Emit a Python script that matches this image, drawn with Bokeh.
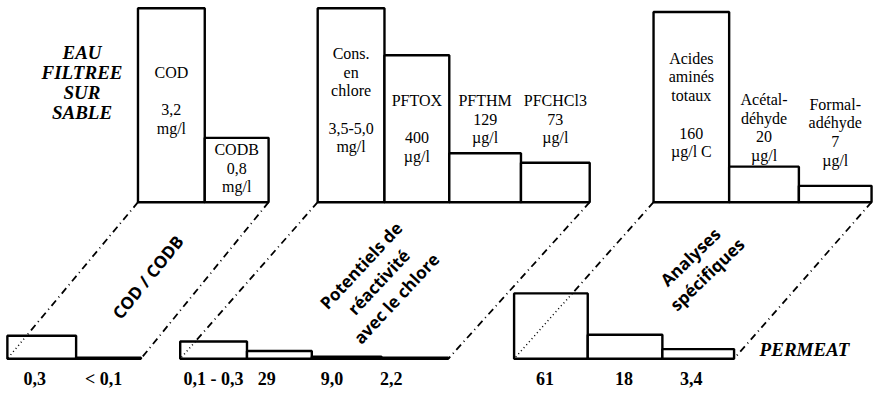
import math
from bokeh.plotting import figure
from bokeh.models import Range1d
from bokeh.core.properties import value
from bokeh.embed import file_html
from bokeh.resources import INLINE

# ---------------- data (schematic bar heights) ----------------
left_title = ["EAU", "FILTREE", "SUR", "SABLE"]
right_title = "PERMEAT"

group_titles = ["COD / CODB", "Potentiels de\nréactivité\navec le chlore", "Analyses\nspécifiques"]

cod_top_labels = [["COD", "", "3,2", "mg/l"], ["CODB", "0,8", "mg/l"]]
cod_top_heights = [202, 67]
cod_bottom_heights = [24, 1]
cod_bottom_labels = ["0,3", "< 0,1"]

chl_top_labels = [["Cons.", "en", "chlore", "", "3,5-5,0", "mg/l"],
                  ["PFTOX", "", "400", "µg/l"],
                  ["PFTHM", "129", "µg/l"],
                  ["PFCHCl3", "73", "µg/l"]]
chl_top_heights = [202, 153, 51, 41]
chl_bottom_heights = [18, 8, 2, 1]
chl_bottom_labels = ["0,1 - 0,3", "29", "9,0", "2,2"]

spe_top_labels = [["Acides", "aminés", "totaux", "", "160", "µg/l C"],
                  ["Acétal-", "déhyde", "20", "µg/l"],
                  ["Formal-", "adéhyde", "7", "µg/l"]]
spe_top_heights = [198, 37, 17]
spe_bottom_heights = [68, 25, 10]
spe_bottom_labels = ["61", "18", "3,4"]

top_labels = [cod_top_labels, chl_top_labels, spe_top_labels]
top_heights = [cod_top_heights, chl_top_heights, spe_top_heights]
bottom_heights = [cod_bottom_heights, chl_bottom_heights, spe_bottom_heights]
bottom_labels = [cod_bottom_labels, chl_bottom_labels, spe_bottom_labels]

# ---------------- layout (positions / sizes / styles) ----------------
TOP_BASE = 210
BOT_BASE = 373
top_x0 = [140, 323, 665]
bot_x0 = [7, 183, 523]
top_w = [[68, 65], [68, 66, 73, 70], [77, 71, 74]]
bot_w = [[70, 66], [68, 66, 71, 68], [75, 76, 73]]
top_text_y = [[75, 155], [55, 104, 104, 104], [60, 103, 108]]
bot_label_dx = [[-7, -5], [0, -13, -15, -24], [-6, -1, -7]]
BOT_LABEL_Y = 394
LINE_STEP = 19.5
title_pos = [(150, 288), (385, 293), (711, 276)]
title_angle = [51, 47, 44]

SERIF = value("Liberation Serif")
SANS = value("Open Sans")

p = figure(width=874, height=388, output_backend="svg", toolbar_location=None,
           x_range=Range1d(0, 890), y_range=Range1d(404, 0), min_border=0)
p.axis.visible = False
p.grid.visible = False
p.outline_line_color = None
p.background_fill_color = "white"
p.border_fill_color = "white"

DASHDOT = "7 4 1 4"

for g in range(3):
    tl, tr = [], []
    x = top_x0[g]
    for w in top_w[g]:
        tl.append(x); tr.append(x + w); x += w
    bl, br = [], []
    x = bot_x0[g]
    for w in bot_w[g]:
        bl.append(x); br.append(x + w); x += w

    # connecting dash-dot lines
    for (xt, xb) in [(tl[0], bl[0]), (tr[-1], br[-1])]:
        p.line([xt, xb], [TOP_BASE, BOT_BASE], line_color="black", line_width=1.8,
               line_dash=DASHDOT)

    # top bars
    p.quad(left=tl, right=tr, bottom=[TOP_BASE] * len(tl),
           top=[TOP_BASE - h for h in top_heights[g]],
           fill_color="white", line_color="black", line_width=2.4)
    # bottom bars
    p.quad(left=bl, right=br, bottom=[BOT_BASE] * len(bl),
           top=[BOT_BASE - h for h in bottom_heights[g]],
           fill_color="white", line_color="black", line_width=2.4)

    # dotted continuation inside first bottom bar
    yt = BOT_BASE - bottom_heights[g][0]
    t = (yt - TOP_BASE) / (BOT_BASE - TOP_BASE)
    xi = tl[0] + t * (bl[0] - tl[0])
    p.line([xi, bl[0]], [yt, BOT_BASE], line_color="black", line_width=1.5,
           line_dash="1 3")

    # top bar texts
    xs, ys, tx = [], [], []
    for i, lines in enumerate(top_labels[g]):
        cx = (tl[i] + tr[i]) / 2
        for k, s in enumerate(lines):
            if s:
                xs.append(cx); ys.append(top_text_y[g][i] + k * LINE_STEP); tx.append(s)
    p.text(x=xs, y=ys, text=tx, text_align="center", text_baseline="middle",
           text_font=SERIF, text_font_size="16px", text_color="black")

    # bottom labels
    p.text(x=[(bl[i] + br[i]) / 2 + bot_label_dx[g][i] for i in range(len(bl))],
           y=[BOT_LABEL_Y] * len(bl), text=bottom_labels[g],
           text_align="center", text_baseline="middle",
           text_font=SERIF, text_font_size="18px", text_font_style="bold",
           text_color="black")

    # rotated group title
    p.text(x=[title_pos[g][0]], y=[title_pos[g][1]], text=[group_titles[g]],
           angle=math.radians(title_angle[g]), text_align="center",
           text_baseline="middle", text_font=SANS, text_font_size="17px",
           text_font_style="bold", text_color="black", text_line_height=1.05)

# left title
p.text(x=[83] * len(left_title), y=[54 + 21 * k for k in range(len(left_title))],
       text=left_title, text_align="center", text_baseline="middle",
       text_font=SERIF, text_font_size="19px", text_font_style="bold italic",
       text_color="black")
# right title
p.text(x=[773], y=[363], text=[right_title], text_align="left", text_baseline="middle",
       text_font=SERIF, text_font_size="19px", text_font_style="bold italic",
       text_color="black")

open("out.html", "w").write(file_html(p, INLINE))
